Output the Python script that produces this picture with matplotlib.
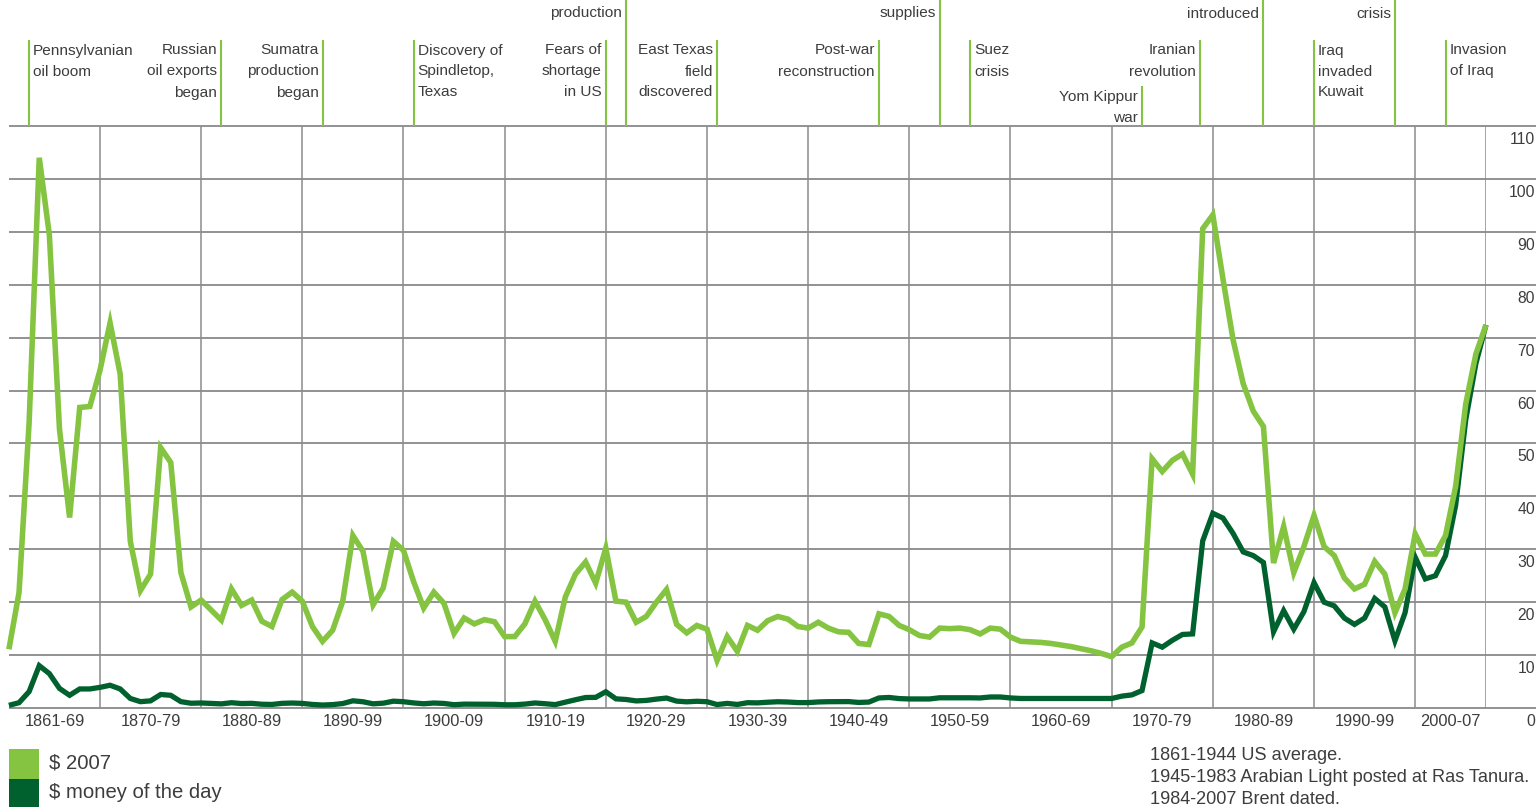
import matplotlib
matplotlib.use("Agg")
import matplotlib.pyplot as plt
from matplotlib.transforms import blended_transform_factory, ScaledTranslation
from matplotlib.patches import Rectangle

# ---------------------------------------------------------------- data
years = list(range(1861, 2008))

# Crude oil price, US dollars per barrel, in 2007 dollars
price_2007 = [
    11.1, 21.8, 54.0, 104.0, 89.4, 52.7, 36.0, 56.8, 57.0,            # 1861-69
    63.8, 72.8, 63.1, 31.5, 22.2, 25.3, 49.2, 46.4, 25.6, 19.1,       # 1870-79
    20.4, 18.5, 16.6, 22.5, 19.4, 20.4, 16.4, 15.4, 20.5, 21.9,       # 1880-89
    20.2, 15.4, 12.6, 14.7, 20.2, 32.6, 29.6, 19.5, 22.7, 31.5,       # 1890-99
    29.8, 23.9, 18.9, 21.9, 19.8, 14.1, 17.0, 15.9, 16.7, 16.3,       # 1900-09
    13.5, 13.5, 15.9, 20.2, 16.7, 12.6, 21.0, 25.3, 27.6, 23.6,       # 1910-19
    30.2, 20.2, 20.0, 16.2, 17.3, 20.0, 22.4, 15.8, 14.2, 15.6,       # 1920-29
    14.9, 9.0, 13.5, 10.7, 15.6, 14.7, 16.5, 17.3, 16.8, 15.4,        # 1930-39
    15.1, 16.2, 15.1, 14.4, 14.3, 12.2, 12.0, 17.8, 17.3, 15.6,       # 1940-49
    14.8, 13.7, 13.4, 15.1, 15.0, 15.1, 14.8, 14.0, 15.1, 14.9,       # 1950-59
    13.4, 12.6, 12.5, 12.4, 12.2, 11.9, 11.6, 11.2, 10.8, 10.3,       # 1960-69
    9.7, 11.5, 12.3, 15.3, 47.1, 44.7, 46.8, 48.0, 44.2, 90.6,        # 1970-79
    93.2, 81.1, 69.6, 61.3, 56.1, 53.2, 27.4, 34.3, 25.6, 30.5,       # 1980-89
    36.4, 30.5, 28.8, 24.6, 22.5, 23.4, 27.7, 25.3, 18.0, 22.5,       # 1990-99
    32.9, 29.1, 29.1, 32.6, 41.9, 57.5, 66.9, 72.4,                   # 2000-07
]

# Crude oil price, US dollars per barrel, money of the day
price_money_of_day = [
    0.5, 1.0, 3.1, 8.0, 6.5, 3.7, 2.4, 3.6, 3.6,                      # 1861-69
    3.9, 4.3, 3.6, 1.8, 1.2, 1.35, 2.55, 2.4, 1.2, 0.9,               # 1870-79
    0.95, 0.86, 0.78, 1.0, 0.84, 0.88, 0.71, 0.67, 0.88, 0.94,        # 1880-89
    0.87, 0.67, 0.56, 0.64, 0.84, 1.36, 1.18, 0.79, 0.91, 1.29,       # 1890-99
    1.19, 0.96, 0.80, 0.94, 0.86, 0.62, 0.73, 0.72, 0.72, 0.70,       # 1900-09
    0.61, 0.61, 0.74, 0.95, 0.81, 0.64, 1.10, 1.56, 1.98, 2.01,       # 1910-19
    3.07, 1.73, 1.61, 1.34, 1.43, 1.68, 1.88, 1.30, 1.17, 1.27,       # 1920-29
    1.19, 0.65, 0.87, 0.67, 1.00, 0.97, 1.09, 1.18, 1.13, 1.02,       # 1930-39
    1.02, 1.14, 1.19, 1.20, 1.21, 1.05, 1.12, 1.90, 1.99, 1.78,       # 1940-49
    1.71, 1.71, 1.71, 1.93, 1.93, 1.93, 1.93, 1.90, 2.08, 2.08,       # 1950-59
    1.90, 1.80, 1.80, 1.80, 1.80, 1.80, 1.80, 1.80, 1.80, 1.80,       # 1960-69
    1.80, 2.24, 2.48, 3.29, 12.3, 11.5, 12.8, 13.9, 14.0, 31.6,       # 1970-79
    36.8, 35.9, 33.0, 29.5, 28.8, 27.5, 14.4, 18.4, 14.9, 18.2,       # 1980-89
    23.7, 20.0, 19.3, 17.0, 15.8, 17.0, 20.7, 19.1, 12.7, 18.0,       # 1990-99
    28.5, 24.4, 25.0, 28.8, 38.3, 54.5, 65.1, 72.4,                   # 2000-07
]

period_edges = [1861, 1870, 1880, 1890, 1900, 1910, 1920, 1930, 1940,
                1950, 1960, 1970, 1980, 1990, 2000, 2007]
period_labels = ["1861-69", "1870-79", "1880-89", "1890-99", "1900-09",
                 "1910-19", "1920-29", "1930-39", "1940-49", "1950-59",
                 "1960-69", "1970-79", "1980-89", "1990-99", "2000-07"]
value_ticks = [0, 10, 20, 30, 40, 50, 60, 70, 80, 90, 100, 110]

event_years = [1863, 1882, 1892, 1901, 1920, 1922, 1931, 1947, 1953,
               1956, 1973, 1978.7, 1985, 1990, 1998, 2003]
event_labels = [
    "Pennsylvanian\noil boom",
    "Russian\noil exports\nbegan",
    "Sumatra\nproduction\nbegan",
    "Discovery of\nSpindletop,\nTexas",
    "Fears of\nshortage\nin US",
    "production",
    "East Texas\nfield\ndiscovered",
    "Post-war\nreconstruction",
    "supplies",
    "Suez\ncrisis",
    "Yom Kippur\nwar",
    "Iranian\nrevolution",
    "introduced",
    "Iraq\ninvaded\nKuwait",
    "crisis",
    "Invasion\nof Iraq",
]

series_names = ["$ 2007", "$ money of the day"]
source_notes = ["1861-1944 US average.",
                "1945-1983 Arabian Light posted at Ras Tanura.",
                "1984-2007 Brent dated."]

# ---------------------------------------------------------------- style
LIGHT = "#84c441"
DARK = "#00612e"
GRID_H = "#747474"
GRID_V = "#8c8c8c"
TEXT = "#3d3d3d"

# label side (text to the right or left of its marker) and tier
event_side = ["r", "l", "l", "r", "l", "l", "l", "l", "l",
              "r", "l", "l", "l", "r", "l", "r"]
event_tier = ["mid", "mid", "mid", "mid", "mid", "high", "mid", "mid", "high",
              "mid", "low", "mid", "high", "mid", "high", "mid"]

plt.rcParams["font.family"] = ["Liberation Sans", "DejaVu Sans"]

W, H, DPI = 1538, 807, 100
fig = plt.figure(figsize=(W / DPI, H / DPI), dpi=DPI)
fig.patch.set_facecolor("white")

# plot area in pixels
X0, X1 = 8.9, 1486.0
Y0, Y1 = 708.0, 126.0
XR = 1536.0           # horizontal rules run on under the value labels


def fy(py):
    return 1.0 - py / H


ax = fig.add_axes([X0 / W, fy(Y0), (X1 - X0) / W, (Y0 - Y1) / H])
ax.set_xlim(period_edges[0], period_edges[-1])
ax.set_ylim(value_ticks[0], value_ticks[-1])
ax.axis("off")

px_per_year = (X1 - X0) / (period_edges[-1] - period_edges[0])
x_right = period_edges[0] + (XR - X0) / px_per_year
val_px = (Y0 - Y1) / (value_ticks[-1] - value_ticks[0])

# horizontal rules
for v in value_ticks:
    ax.plot([period_edges[0], x_right], [v, v], color=GRID_H, lw=1.1,
            clip_on=False, zorder=1, solid_capstyle="butt")

# vertical rules at each period boundary
for e in period_edges[1:]:
    ax.plot([e, e], [value_ticks[0], value_ticks[-1]], color=GRID_V, lw=1.1,
            zorder=1, solid_capstyle="butt")

# price lines
ax.plot(years, price_money_of_day, color=DARK, lw=3.8, zorder=3,
        solid_joinstyle="miter", solid_capstyle="butt", clip_on=False)
ax.plot(years, price_2007, color=LIGHT, lw=4.0, zorder=4,
        solid_joinstyle="miter", solid_capstyle="butt", clip_on=False)

# period labels under the axis
for a, b, lab in zip(period_edges[:-1], period_edges[1:], period_labels):
    ax.text((a + b) / 2, -13.0 / val_px, lab, ha="center", va="center",
            fontsize=11.8, color=TEXT, clip_on=False)

# value labels on the right, just under each rule
for v in value_ticks:
    ax.text(x_right - 0.1, v - 13.5 / val_px, str(v), ha="right",
            va="center", fontsize=11.3, color=TEXT, clip_on=False)

# world events
line_gap = 21.0
tier_top = {"mid": 40.0, "low": 86.0}
for yr, lab, side, tier in zip(event_years, event_labels, event_side, event_tier):
    lines = lab.split("\n")
    tr_line = blended_transform_factory(ax.transData, fig.transFigure)
    if tier == "high":
        first_base = 17.5 - line_gap * (len(lines) - 1)
        top = -10.0
    else:
        top = tier_top[tier]
        first_base = top + 14.5
    ax.plot([yr, yr], [fy(Y1), fy(top)], transform=tr_line, color=LIGHT,
            lw=1.5, clip_on=False, zorder=2, solid_capstyle="butt")
    dx = 0.04 if side == "r" else -0.04
    tr_txt = tr_line + ScaledTranslation(dx, 0, fig.dpi_scale_trans)
    for i, ln in enumerate(lines):
        ax.text(yr, fy(first_base + i * line_gap), ln, transform=tr_txt,
                ha="left" if side == "r" else "right", va="baseline",
                fontsize=11.1, color=TEXT, clip_on=False)

# legend swatches
for i, (name, col) in enumerate(zip(series_names, [LIGHT, DARK])):
    top = 749 + 30 * i
    fig.add_artist(Rectangle((9 / W, fy(top + 30)), 30 / W, 30 / H,
                             transform=fig.transFigure, facecolor=col,
                             edgecolor="none"))
    fig.text(49 / W, fy(top + 14), name, ha="left", va="center",
             fontsize=14.6, color=TEXT)

# source notes
for i, note in enumerate(source_notes):
    fig.text(1150 / W, fy(756 + 22 * i), note, ha="left", va="center",
             fontsize=13.1, color=TEXT)

fig.savefig("out.png", dpi=DPI, facecolor="white")
